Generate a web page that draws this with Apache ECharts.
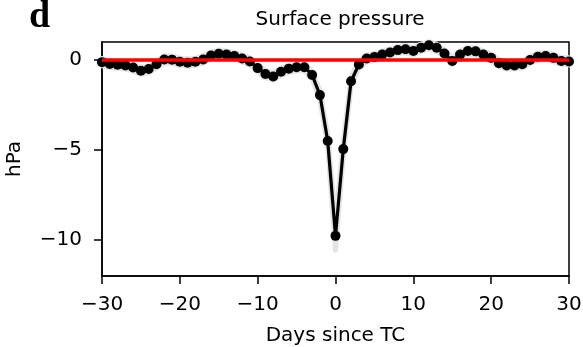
<!DOCTYPE html>
<html>
<head>
<meta charset="utf-8">
<script src="https://cdn.jsdelivr.net/npm/echarts@6/dist/echarts.min.js"></script>
<style>html,body{margin:0;padding:0;background:#fff}#c{width:583px;height:347px}</style>
</head>
<body>
<div id="c"></div>
<script>
var days = [-30,-29,-28,-27,-26,-25,-24,-23,-22,-21,-20,-19,-18,-17,-16,-15,-14,-13,-12,-11,-10,-9,-8,-7,-6,-5,-4,-3,-2,-1,0,1,2,3,4,5,6,7,8,9,10,11,12,13,14,15,16,17,18,19,20,21,22,23,24,25,26,27,28,29,30];
var pressure = [-0.12,-0.22,-0.26,-0.30,-0.42,-0.60,-0.50,-0.24,0.03,0.02,-0.10,-0.15,-0.10,0.03,0.25,0.35,0.30,0.22,0.08,-0.08,-0.45,-0.78,-0.92,-0.65,-0.48,-0.40,-0.40,-0.83,-1.95,-4.50,-9.77,-4.95,-1.18,-0.25,0.08,0.16,0.30,0.42,0.55,0.60,0.50,0.68,0.82,0.68,0.36,-0.06,0.30,0.50,0.48,0.30,0.12,-0.18,-0.30,-0.30,-0.24,0.00,0.18,0.22,0.12,-0.05,-0.08];
var spread = [0.2,0.2,0.2,0.2,0.2,0.2,0.2,0.2,0.2,0.2,0.2,0.2,0.2,0.2,0.2,0.2,0.2,0.2,0.2,0.2,0.2,0.2,0.2,0.2,0.2,0.2,0.2,0.22,0.25,0.35,0.8,0.4,0.25,0.22,0.2,0.2,0.2,0.2,0.2,0.2,0.2,0.2,0.2,0.2,0.2,0.2,0.2,0.2,0.2,0.2,0.2,0.2,0.2,0.2,0.2,0.2,0.2,0.2,0.2,0.2,0.2];
var xTicks = [-30,-20,-10,0,10,20,30];
var yTicks = [-10,-5,0];
var refLine = [[-30,0],[30,0]];

var FONT = 'DejaVu Sans';
function fmt(v){ return String(v).replace('-', '\u2212'); }

var mainData = days.map(function(d,i){ return [d, pressure[i]]; });
var bandData = days.map(function(d,i){ return [d, pressure[i]-spread[i], pressure[i]+spread[i]]; });

var chart = echarts.init(document.getElementById('c'), null, {renderer:'canvas'});
chart.setOption({
  animation:false,
  backgroundColor:'#fff',
  title:[
    {text:'Surface pressure', left:335, top:5, textAlign:'center',
     textStyle:{fontFamily:FONT, fontSize:20, fontWeight:'normal', color:'#000'}},
    {text:'d', left:24, top:-7,
     textStyle:{fontFamily:'Liberation Serif', fontSize:38, fontWeight:'bold', color:'#000'}}
  ],
  grid:{left:102, right:14, top:42, bottom:71, show:true, borderColor:'#000', borderWidth:1.5, backgroundColor:'transparent', containLabel:false, outerBoundsMode:'none'},
  xAxis:{
    type:'value', min:-30, max:30, interval:10,
    name:'Days since TC', nameLocation:'middle', nameGap:50,
    nameTextStyle:{fontFamily:FONT, fontSize:20, color:'#000'},
    axisLine:{show:true, onZero:false, lineStyle:{color:'#000', width:1.5}},
    axisTick:{show:true, inside:false, length:8, lineStyle:{color:'#000', width:1.5}},
    axisLabel:{fontFamily:FONT, fontSize:20, color:'#000', margin:19, formatter:fmt},
    splitLine:{show:false}
  },
  yAxis:{
    type:'value', min:-12, max:1,
    name:'hPa', nameLocation:'middle', nameGap:77, nameRotate:90,
    nameTextStyle:{fontFamily:FONT, fontSize:20, color:'#000'},
    axisLine:{show:true, onZero:false, lineStyle:{color:'#000', width:1.5}},
    axisTick:{show:true, inside:false, length:8, lineStyle:{color:'#000', width:1.5}, customValues:yTicks},
    axisLabel:{fontFamily:FONT, fontSize:20, color:'#000', margin:20, formatter:fmt, customValues:yTicks},
    splitLine:{show:false}
  },
  series:[
    {
      type:'custom', z:1, silent:true,
      data:bandData,
      renderItem:function(params, api){
        if (params.dataIndex !== 0) return null;
        var up = [], lo = [];
        for (var i=0;i<bandData.length;i++){
          up.push(api.coord([bandData[i][0], bandData[i][2]]));
          lo.push(api.coord([bandData[i][0], bandData[i][1]]));
        }
        var pts = up.concat(lo.reverse());
        return {type:'polygon', shape:{points:pts}, style:{fill:'#e4e4e4', stroke:'#e4e4e4', lineWidth:5, lineJoin:'round'}};
      },
      encode:{x:0, y:1}
    },
    {
      type:'line', z:3, data:mainData,
      symbol:'circle', symbolSize:10, showSymbol:true,
      lineStyle:{color:'#000', width:3.2},
      itemStyle:{color:'#000'}
    },
    {
      type:'line', z:4, data:refLine, symbol:'none',
      lineStyle:{color:'#ff0000', width:3.5}
    }
  ]
});
</script>
</body>
</html>
